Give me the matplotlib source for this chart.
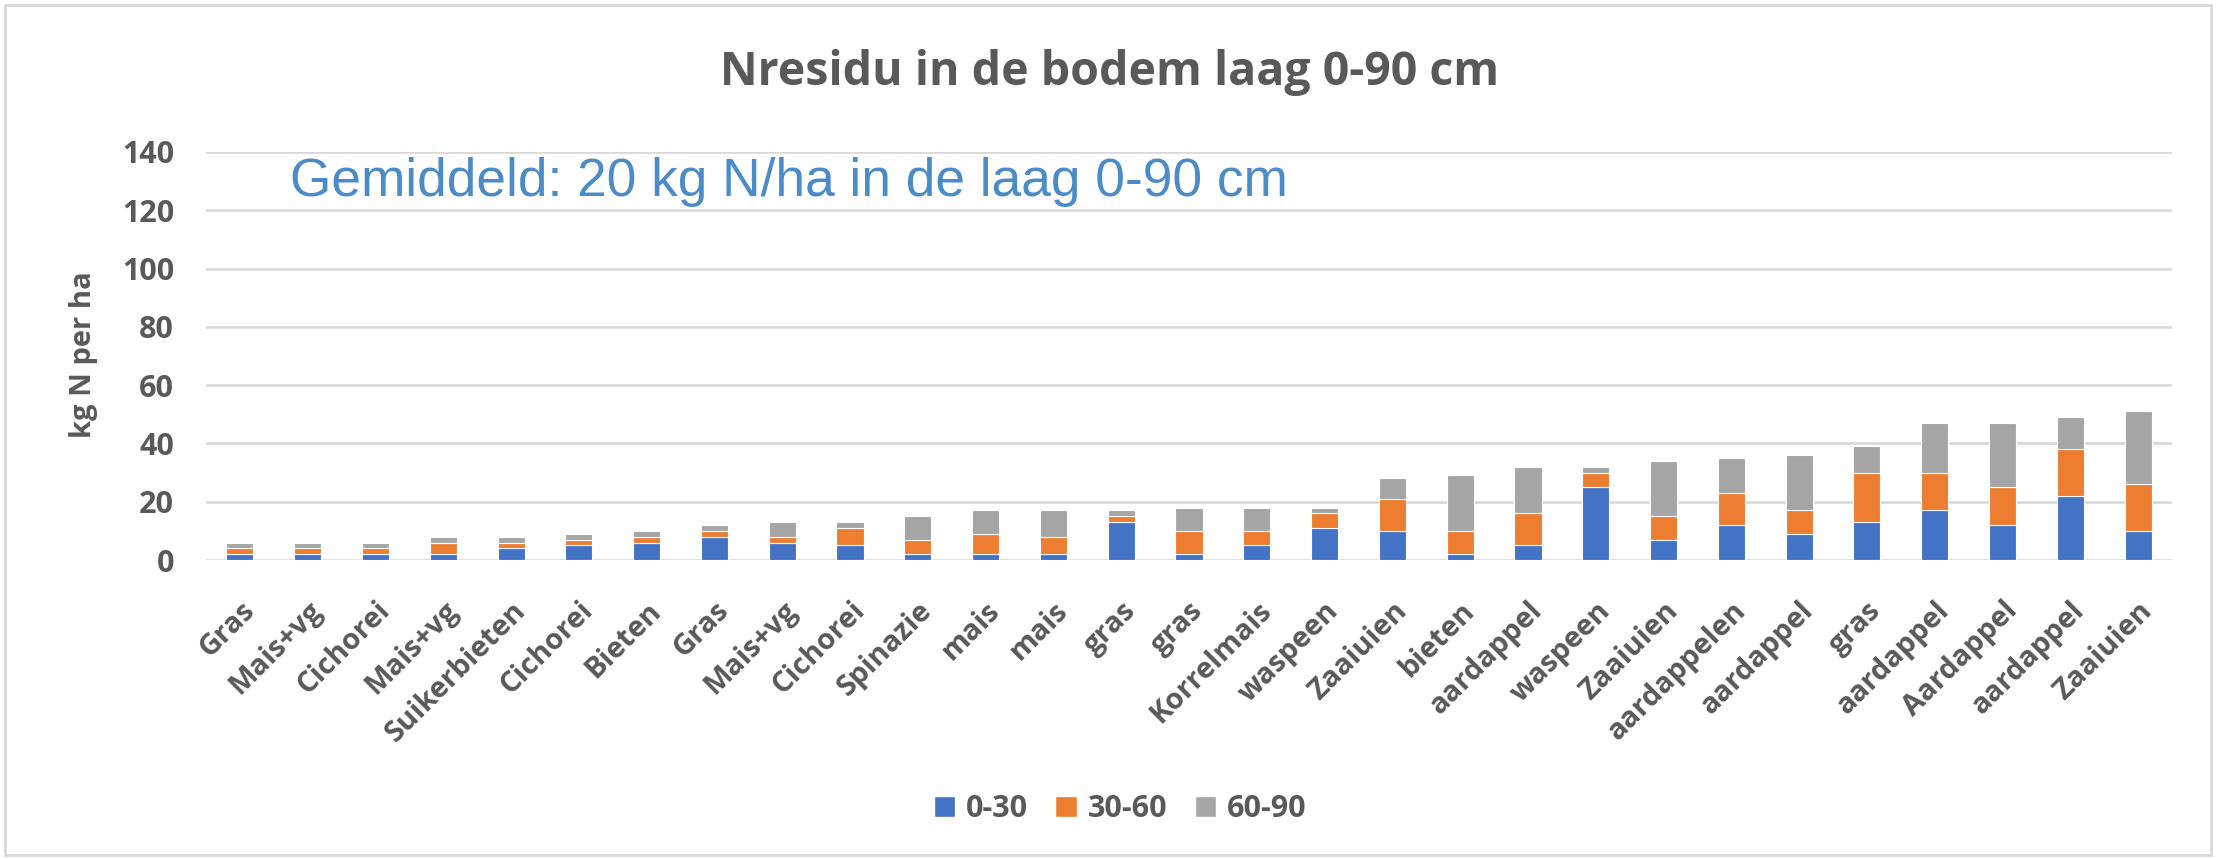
import matplotlib
matplotlib.use("Agg")
import matplotlib.pyplot as plt
from matplotlib.patches import Rectangle, Patch
import numpy as np

categories = ["Gras", "Mais+vg", "Cichorei", "Mais+vg", "Suikerbieten", "Cichorei",
              "Bieten", "Gras", "Mais+vg", "Cichorei", "Spinazie", "mais", "mais",
              "gras", "gras", "Korrelmais", "waspeen", "Zaaiuien", "bieten", "aardappel",
              "waspeen", "Zaaiuien", "aardappelen", "aardappel", "gras", "aardappel",
              "Aardappel", "aardappel", "Zaaiuien"]
layer_0_30 = [2, 2, 2, 2, 4, 5, 6, 8, 6, 5, 2, 2, 2, 13, 2, 5, 11, 10, 2, 5,
              25, 7, 12, 9, 13, 17, 12, 22, 10]
layer_30_60 = [2, 2, 2, 4, 2, 2, 2, 2, 2, 6, 5, 7, 6, 2, 8, 5, 5, 11, 8, 11,
               5, 8, 11, 8, 17, 13, 13, 16, 16]
layer_60_90 = [2, 2, 2, 2, 2, 2, 2, 2, 5, 2, 8, 8, 9, 2, 8, 8, 2, 7, 19, 16,
               2, 19, 12, 19, 9, 17, 22, 11, 25]
series_labels = ["0-30", "30-60", "60-90"]
yticks = [0, 20, 40, 60, 80, 100, 120, 140]

colors = ["#4472C4", "#ED7D31", "#A5A5A5"]
txt = "#595959"
FONT = "Open Sans"

W, H = 2216, 859
fig = plt.figure(figsize=(W / 100, H / 100), dpi=100)
fig.patch.set_facecolor("white")
fig.add_artist(Rectangle((5 / W, 4 / H), 2206 / W, 850 / H, transform=fig.transFigure,
                         fill=False, edgecolor="#d9d9d9", linewidth=2))

ax = fig.add_axes([206 / W, 1 - 560 / H, (2172 - 206) / W, (560 - 152) / H])
x = np.arange(len(categories))
bottom = np.zeros(len(categories))
for vals, c, lab in zip([layer_0_30, layer_30_60, layer_60_90], colors, series_labels):
    v = np.array(vals, dtype=float)
    ax.bar(x, v, 0.40, bottom=bottom, color=c, edgecolor="white", linewidth=0.8,
           label=lab, zorder=3)
    bottom += v

ax.set_xlim(-0.5, len(categories) - 0.5)
ax.set_ylim(0, 140)
ax.set_yticks(yticks)
ax.set_yticklabels([str(t) for t in yticks], fontsize=22, fontweight="bold",
                   color=txt, family=FONT)
ax.grid(axis="y", color="#d9d9d9", linewidth=1.9, zorder=0)
ax.set_axisbelow(True)
for s in ax.spines.values():
    s.set_visible(False)
ax.tick_params(axis="both", length=0)
ax.tick_params(axis="y", pad=23)
ax.set_xticks(x)
ax.set_xticklabels(categories, rotation=45, ha="right", va="top",
                   rotation_mode="anchor", fontsize=21, fontweight="bold",
                   color=txt, family=FONT)
ax.tick_params(axis="x", pad=26)

fig.text(83 / W, 1 - 355 / H, "kg N per ha", rotation=90, ha="center", va="center",
         fontsize=21, fontweight="bold", color=txt, family=FONT)

fig.text(1110 / W, 1 - 73 / H, "Nresidu in de bodem laag 0-90 cm", ha="center",
         va="center", fontsize=33.5, fontweight="bold", color=txt, family=FONT)

fig.text(290 / W, 1 - 182 / H, "Gemiddeld: 20 kg N/ha in de laag 0-90 cm", ha="left",
         va="center", fontsize=38.3, color="#4b8bc8", family="Liberation Sans")

handles = [Patch(facecolor=c, edgecolor="white", label=l) for c, l in zip(colors, series_labels)]
fig.legend(handles=handles, loc="center", bbox_to_anchor=(1120 / W, 1 - 809 / H),
           ncol=3, frameon=False, handlelength=0.7, handleheight=0.7,
           handletextpad=0.35, columnspacing=0.9,
           prop={"family": FONT, "size": 22, "weight": "bold"}, labelcolor=txt)

fig.savefig("out.png", dpi=100, facecolor="white")
